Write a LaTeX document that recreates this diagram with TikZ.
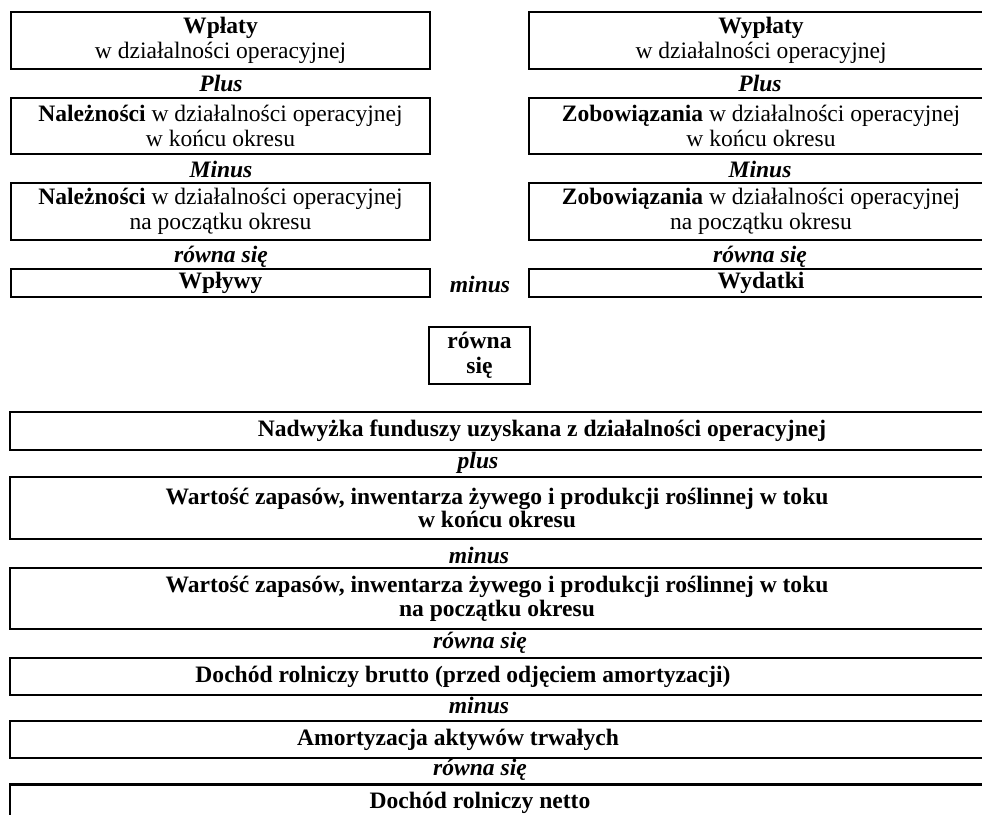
\documentclass[tikz,border=0pt]{standalone}
\usepackage{fontspec}
\setmainfont{Liberation Serif}
\usetikzlibrary{positioning}
\tikzstyle{box} = [draw, line width=0.9pt, inner sep=0pt, align=center, font=\fontsize{13.4}{14.2}\selectfont]
\tikzstyle{colbox} = [box, minimum width=8.38cm]
\tikzstyle{rcolbox} = [box, minimum width=9.28cm]
\tikzstyle{wide} = [box, line width=1.2pt, minimum width=19.48cm, font=\fontsize{13.4}{13.6}\selectfont\bfseries]
\tikzstyle{op} = [inner sep=0pt, anchor=base, font=\fontsize{13.4}{14.2}\selectfont\bfseries\itshape]

\begin{document}
\begin{tikzpicture}[x=0.02cm,y=-0.02cm]
      \useasboundingbox (0,0) rectangle (982,814);
      \clip (0,0) rectangle (982,814);
      % left column
      \node (wplaty) at (220.5,40.5) [colbox, minimum height=1.14cm] {\textbf{Wpłaty}\\w działalności operacyjnej};
      \node (plusL) at (221,92) [op] {Plus};
      \node (naleznK) at (220.5,126) [colbox, minimum height=1.12cm] {\textbf{Należności} w działalności operacyjnej\\w końcu okresu};
      \node (minusL) at (221,177) [op] {Minus};
      \node (naleznP) at (220.5,211.5) [colbox, minimum height=1.14cm] {\textbf{Należności} w działalności operacyjnej\\na początku okresu};
      \node (rownaL) at (221,262) [op] {równa się};
      \node (wplywy) at (220.5,283) [colbox, minimum height=0.56cm] {\textbf{Wpływy}};
      % right column
      \node (wyplaty) at (761,40.5) [rcolbox, minimum height=1.14cm] {\textbf{Wypłaty}\\w działalności operacyjnej};
      \node (plusR) at (760,92) [op] {Plus};
      \node (zobK) at (761,126) [rcolbox, minimum height=1.12cm] {\textbf{Zobowiązania} w działalności operacyjnej\\w końcu okresu};
      \node (minusR) at (760,177) [op] {Minus};
      \node (zobP) at (761,211.5) [rcolbox, minimum height=1.14cm] {\textbf{Zobowiązania} w działalności operacyjnej\\na początku okresu};
      \node (rownaR) at (760,262) [op] {równa się};
      \node (wydatki) at (761,283) [rcolbox, minimum height=0.56cm] {\textbf{Wydatki}};
      % middle
      \node (minusM) at (480,292) [op] {minus};
      \node (rownaM) at (479.5,355.5) [box, minimum width=2.02cm, minimum height=1.14cm, font=\fontsize{13.4}{14.2}\selectfont\bfseries] {równa\\się};
      % bottom chain
      \node (nadwyzka) at (497,431) [wide, minimum height=0.76cm] {\hspace*{1.8cm}Nadwyżka funduszy uzyskana z działalności operacyjnej};
      \node (plusB) at (478,468) [op] {plus};
      \node (zapasyK) at (497,508) [wide, minimum height=1.24cm] {Wartość zapasów, inwentarza żywego i produkcji roślinnej w toku\\w końcu okresu};
      \node (minusB1) at (479,563) [op] {minus};
      \node (zapasyP) at (497,598.5) [wide, minimum height=1.22cm] {Wartość zapasów, inwentarza żywego i produkcji roślinnej w toku\\na początku okresu};
      \node (rownaB1) at (480,648) [op] {równa się};
      \node (brutto) at (497,676.5) [wide, minimum height=0.74cm] {Dochód rolniczy brutto (przed odjęciem amortyzacji)\hspace*{1.36cm}};
      \node (minusB2) at (479,713) [op] {minus};
      \node (amort) at (497,739.5) [wide, minimum height=0.74cm] {Amortyzacja aktywów trwałych\hspace*{1.56cm}};
      \node (rownaB2) at (480,775) [op] {równa się};
      \node (netto) at (497,803) [wide, minimum height=0.74cm] {Dochód rolniczy netto\hspace*{0.68cm}};
\end{tikzpicture}
\end{document}
